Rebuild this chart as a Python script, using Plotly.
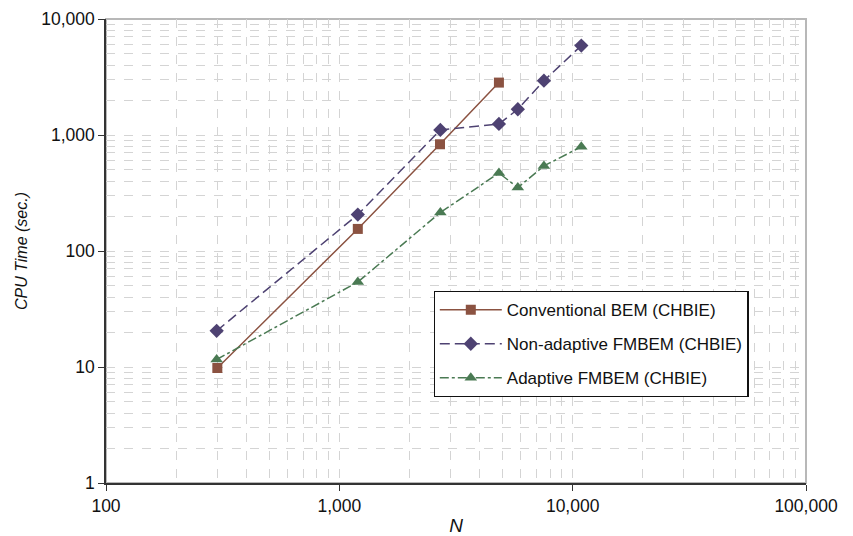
import plotly.graph_objects as go

# Problem sizes (number of boundary elements) and CPU times in seconds
n_conv = [300, 1200, 2700, 4830]
t_conv = [9.8, 155, 832, 2830]

n_nonadapt = [298, 1200, 2710, 4830, 5820, 7530, 10890]
t_nonadapt = [20.5, 206, 1105, 1245, 1667, 2940, 5900]

n_adapt = [298, 1200, 2710, 4830, 5820, 7530, 10890]
t_adapt = [11.6, 54, 215, 470, 352, 541, 792]

x_tick_vals = [100, 1000, 10000, 100000]
x_tick_text = ["100", "1,000", "10,000", "100,000"]
y_tick_vals = [1, 10, 100, 1000, 10000]
y_tick_text = ["1", "10", "100", "1,000", "10,000"]

BROWN = "#8b5241"
PURPLE = "#4e4272"
GREEN = "#4a7a53"
GRID = "#d4d4d4"
FONT = "Liberation Sans, Arial, sans-serif"

fig = go.Figure()

fig.add_trace(go.Scatter(
    x=n_conv, y=t_conv, mode="lines+markers",
    name="Conventional BEM (CHBIE)", legendgroup="conv",
    line=dict(color=BROWN, width=1.5),
    marker=dict(symbol="square", size=10, color=BROWN),
))
fig.add_trace(go.Scatter(
    x=n_nonadapt, y=t_nonadapt, mode="lines+markers",
    name="Non-adaptive FMBEM (CHBIE)", legendgroup="nonadapt",
    line=dict(color=PURPLE, width=1.5, dash="10px,5px"),
    marker=dict(symbol="diamond", size=11, color=PURPLE),
))
fig.add_trace(go.Scatter(
    x=n_adapt, y=t_adapt, mode="lines+markers",
    name="Adaptive FMBEM (CHBIE)", legendgroup="adapt",
    line=dict(color=GREEN, width=1.5, dash="dashdot"),
    marker=dict(symbol="triangle-up", size=11, color=GREEN),
))

axis_common = dict(
    type="log", automargin=False,
    showgrid=True, gridcolor=GRID, griddash="dash", gridwidth=1,
    showline=True, linecolor="#333333", linewidth=1.5,
    ticks="outside", ticklen=6, tickcolor="#333333",
    tickfont=dict(family=FONT, size=17.5, color="#111"),
    zeroline=False,
    minor=dict(dtick="D1", showgrid=True, gridcolor=GRID, griddash="dash",
               gridwidth=1, ticks=""),
)

fig.update_layout(
    width=853, height=536,
    margin=dict(l=106, r=47, t=19, b=53),
    paper_bgcolor="white", plot_bgcolor="white",
    font=dict(family=FONT, color="#111"),
    xaxis=dict(
        **axis_common, range=[2, 5],
        tickmode="array", tickvals=x_tick_vals, ticktext=x_tick_text,
        title=dict(text="<i>N</i>", font=dict(size=19), standoff=8),
    ),
    yaxis=dict(
        **axis_common, range=[0, 4],
        tickmode="array", tickvals=y_tick_vals, ticktext=y_tick_text,
        title=dict(text="<i>CPU Time (sec.)</i>", font=dict(size=16), standoff=10),
    ),
    legend=dict(
        x=0.468, y=0.414, xanchor="left", yanchor="top",
        bgcolor="white", bordercolor="#111", borderwidth=1.2,
        font=dict(size=17, color="#111"),
        tracegroupgap=9, itemwidth=62,
        entrywidth=250, entrywidthmode="pixels",
    ),
    shapes=[dict(
        type="rect", xref="paper", yref="paper", x0=0, y0=0, x1=1, y1=1,
        line=dict(color="#b8b8b8", width=2), layer="below",
    )],
)

fig.write_html("out.html")
